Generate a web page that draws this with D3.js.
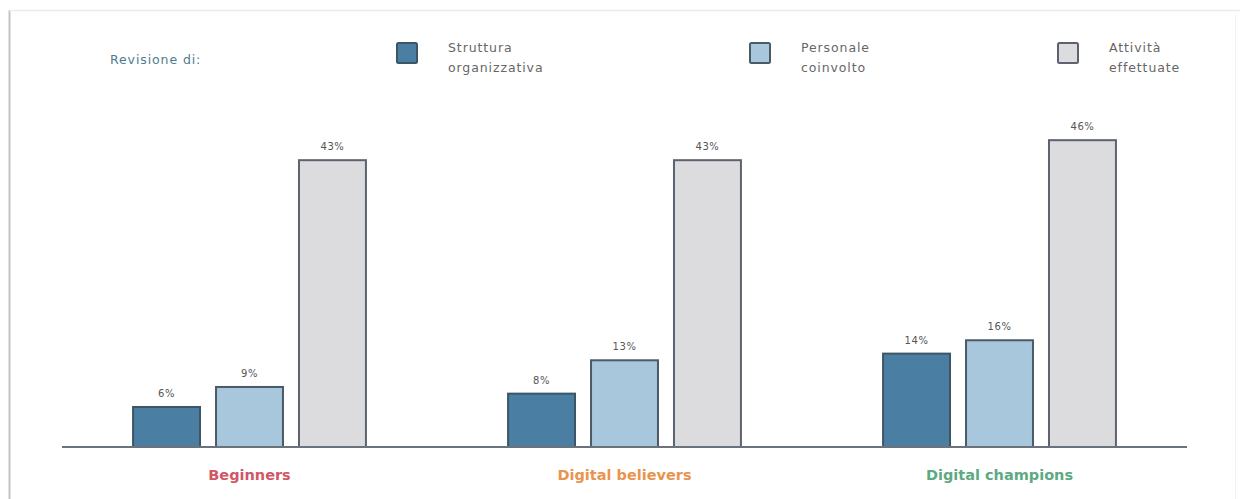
<!DOCTYPE html>
<html>
<head>
<meta charset="utf-8">
<script src="https://cdn.jsdelivr.net/npm/d3@7"></script>
<style>
  body { margin: 0; background: #fff; }
  svg { display: block; font-family: "DejaVu Sans", sans-serif; }
</style>
</head>
<body>
<svg id="chart" width="1243" height="499"></svg>
<script>
const groups = ['Beginners', 'Digital believers', 'Digital champions'];
const groupColors = ['#d25666', '#e8944f', '#5daa82'];
const seriesNames = [['Struttura', 'organizzativa'], ['Personale', 'coinvolto'], ['Attività', 'effettuate']];
const seriesFill = ['#4a7ea3', '#a8c7dd', '#dcdcde'];
const seriesStroke = ['#3e5566', '#4a5a66', '#5c6270'];

const struttura = [6, 8, 14];
const personale = [9, 13, 16];
const attivita = [43, 43, 46];

const series = [struttura, personale, attivita];

const svg = d3.select('#chart');

// frame around the chart
svg.append('line').attr('x1', 9.5).attr('x2', 9.5).attr('y1', 10).attr('y2', 499)
  .attr('stroke', '#c4c4c4').attr('stroke-width', 2);
svg.append('line').attr('x1', 9).attr('x2', 1240).attr('y1', 10.5).attr('y2', 10.5)
  .attr('stroke', '#ececec').attr('stroke-width', 1.5);
svg.append('line').attr('x1', 1235.5).attr('x2', 1235.5).attr('y1', 14).attr('y2', 499)
  .attr('stroke', '#f2f2f2').attr('stroke-width', 1);

const baseline = 447;
const x0 = d3.scaleBand().domain(groups).range([62, 1187]).paddingInner(0.379).paddingOuter(0.1895);
const x1 = d3.scaleBand().domain(d3.range(3)).range([0, x0.bandwidth()]).paddingInner(0.193).paddingOuter(0);
const y = d3.scaleLinear().domain([0, 50]).range([baseline, baseline - 333.5]);

// bars
groups.forEach((g, gi) => {
  const gEl = svg.append('g').attr('transform', `translate(${x0(g)},0)`);
  series.forEach((vals, si) => {
    const v = vals[gi];
    gEl.append('rect')
      .attr('x', x1(si))
      .attr('y', y(v))
      .attr('width', x1.bandwidth())
      .attr('height', y(0) - y(v))
      .attr('fill', seriesFill[si])
      .attr('stroke', seriesStroke[si])
      .attr('stroke-width', 2);
    gEl.append('text')
      .attr('x', x1(si) + x1.bandwidth() / 2)
      .attr('y', y(v) - 10)
      .attr('text-anchor', 'middle')
      .style('font-size', '10px')
      .style('letter-spacing', '0.6px')
      .attr('fill', '#555')
      .text(v + '%');
  });
});

// axis line
svg.append('line').attr('x1', 62).attr('x2', 1187).attr('y1', baseline).attr('y2', baseline)
  .attr('stroke', '#6a737b').attr('stroke-width', 2);

// category labels
groups.forEach((g, gi) => {
  svg.append('text')
    .attr('x', x0(g) + x0.bandwidth() / 2)
    .attr('y', 480)
    .attr('text-anchor', 'middle')
    .style('font-size', '14.5px')
    .style('font-weight', 'bold')
    .attr('fill', groupColors[gi])
    .text(g);
});

// legend
svg.append('text').attr('x', 110).attr('y', 64)
  .style('font-size', '12.5px').style('letter-spacing', '0.9px')
  .attr('fill', '#4d7c8c').text('Revisione di:');

const legendX = [397, 750, 1058];
seriesNames.forEach((name, si) => {
  svg.append('rect')
    .attr('x', legendX[si]).attr('y', 43)
    .attr('width', 20).attr('height', 20)
    .attr('rx', 1.5)
    .attr('fill', seriesFill[si])
    .attr('stroke', seriesStroke[si])
    .attr('stroke-width', 2);
  name.forEach((line, li) => {
    svg.append('text')
      .attr('x', legendX[si] + 51)
      .attr('y', 52 + li * 20)
      .style('font-size', '12.5px')
      .style('letter-spacing', '0.9px')
      .attr('fill', '#666')
      .text(line);
  });
});
</script>
</body>
</html>
